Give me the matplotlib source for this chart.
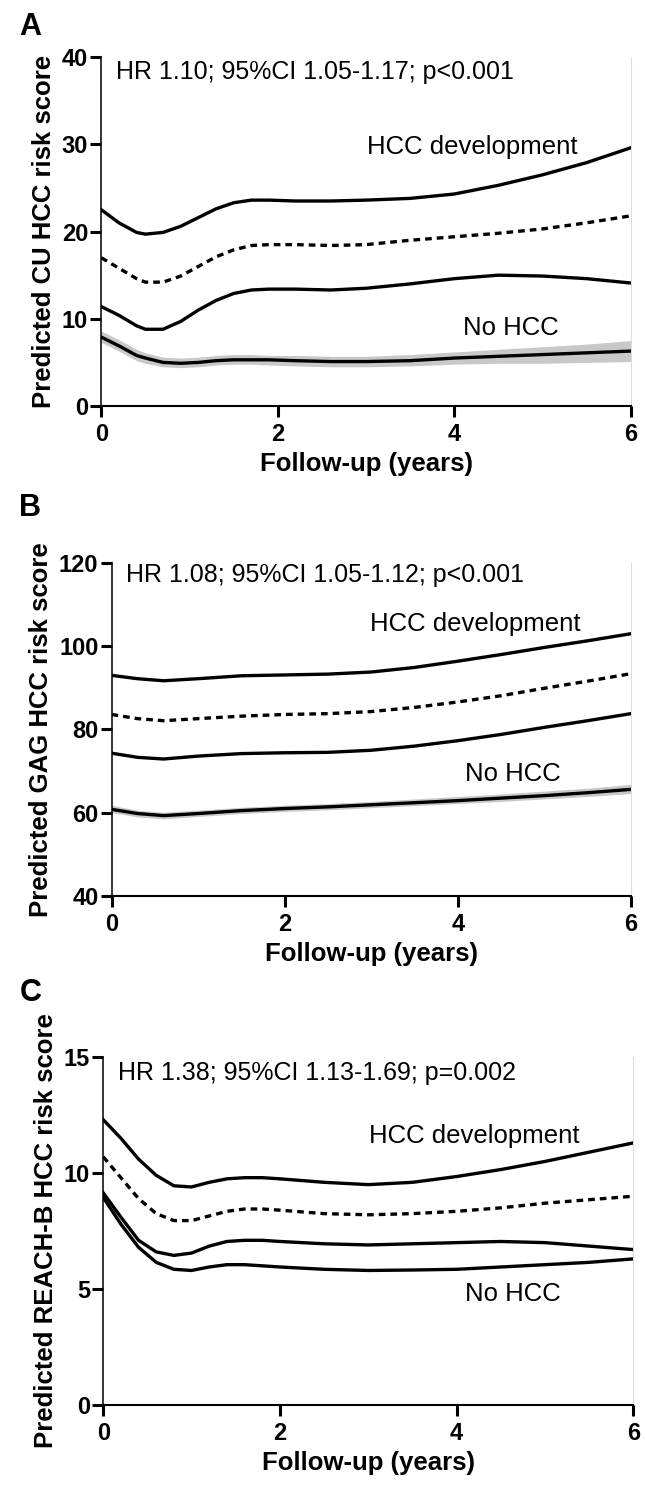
import numpy as np
import matplotlib.pyplot as plt

plt.rcParams['font.family'] = ['Liberation Sans', 'DejaVu Sans']

# panel A - CU HCC
a_x = [0, 0.2, 0.4, 0.5, 0.7, 0.9, 1.1, 1.3, 1.5, 1.7, 1.9, 2.2, 2.6, 3.0, 3.5, 4.0, 4.5, 5.0, 5.5, 6.0]
a_upper = [22.5, 21.0, 19.9, 19.7, 19.9, 20.6, 21.6, 22.6, 23.3, 23.6, 23.6, 23.5, 23.5, 23.6, 23.8, 24.3, 25.3, 26.5, 27.9, 29.6]
a_mean = [17.0, 15.8, 14.6, 14.2, 14.2, 14.9, 16.0, 17.1, 17.9, 18.4, 18.5, 18.5, 18.4, 18.5, 19.0, 19.4, 19.8, 20.3, 21.0, 21.8]
a_lower = [11.4, 10.4, 9.2, 8.8, 8.8, 9.7, 11.0, 12.1, 12.9, 13.3, 13.4, 13.4, 13.3, 13.5, 14.0, 14.6, 15.0, 14.9, 14.6, 14.1]
a_nohcc = [7.9, 6.9, 5.8, 5.5, 5.0, 4.9, 5.0, 5.2, 5.3, 5.3, 5.3, 5.2, 5.1, 5.1, 5.2, 5.5, 5.7, 5.9, 6.1, 6.3]
a_band_lo = [7.3, 6.3, 5.2, 4.9, 4.5, 4.4, 4.5, 4.7, 4.8, 4.8, 4.7, 4.6, 4.5, 4.5, 4.6, 4.8, 4.9, 4.9, 5.0, 5.1]
a_band_hi = [8.6, 7.6, 6.5, 6.1, 5.6, 5.5, 5.6, 5.8, 5.9, 5.9, 5.8, 5.8, 5.7, 5.7, 5.9, 6.2, 6.5, 6.8, 7.1, 7.5]

# panel B - GAG HCC
b_x = [0, 0.3, 0.6, 1.0, 1.5, 2.0, 2.5, 3.0, 3.5, 4.0, 4.5, 5.0, 5.5, 6.0]
b_upper = [93.0, 92.2, 91.7, 92.2, 92.9, 93.1, 93.3, 93.8, 94.9, 96.4, 98.0, 99.7, 101.3, 103.0]
b_mean = [83.6, 82.6, 82.1, 82.6, 83.2, 83.6, 83.8, 84.3, 85.3, 86.6, 88.1, 89.9, 91.6, 93.4]
b_lower = [74.3, 73.3, 72.9, 73.6, 74.2, 74.4, 74.5, 75.0, 76.0, 77.3, 78.8, 80.5, 82.1, 83.8]
b_nohcc = [60.8, 59.8, 59.3, 59.8, 60.5, 61.0, 61.4, 61.9, 62.4, 62.9, 63.5, 64.1, 64.8, 65.6]
b_band_lo = [60.0, 59.0, 58.5, 59.1, 59.8, 60.3, 60.7, 61.2, 61.7, 62.2, 62.7, 63.3, 63.9, 64.6]
b_band_hi = [61.8, 60.6, 60.1, 60.6, 61.3, 61.8, 62.2, 62.7, 63.3, 63.9, 64.5, 65.2, 65.9, 66.8]

# panel C - REACH-B
c_x = [0, 0.2, 0.4, 0.6, 0.8, 1.0, 1.2, 1.4, 1.6, 1.8, 2.0, 2.5, 3.0, 3.5, 4.0, 4.5, 5.0, 5.5, 6.0]
c_upper = [12.3, 11.5, 10.6, 9.9, 9.45, 9.4, 9.6, 9.75, 9.8, 9.8, 9.75, 9.6, 9.5, 9.6, 9.85, 10.15, 10.5, 10.9, 11.3]
c_mean = [10.7, 9.8, 8.9, 8.25, 7.95, 7.95, 8.15, 8.35, 8.45, 8.45, 8.4, 8.25, 8.2, 8.25, 8.35, 8.5, 8.7, 8.85, 9.0]
c_lower = [9.15, 8.1, 7.1, 6.6, 6.45, 6.55, 6.85, 7.05, 7.1, 7.1, 7.05, 6.95, 6.9, 6.95, 7.0, 7.05, 7.0, 6.85, 6.7]
c_nohcc = [8.95, 7.8, 6.8, 6.15, 5.85, 5.8, 5.95, 6.05, 6.05, 6.0, 5.95, 5.85, 5.8, 5.82, 5.85, 5.95, 6.05, 6.15, 6.3]

panels = [
    dict(letter='A', x=a_x, upper=a_upper, mean=a_mean, lower=a_lower, nohcc=a_nohcc,
         band=(a_band_lo, a_band_hi), ylim=(0, 40), yticks=[0, 10, 20, 30, 40],
         ylabel='Predicted CU HCC risk score',
         hr='HR 1.10; 95%CI 1.05-1.17; p<0.001', hr_y=38.3,
         dev_y=29.7, no_y=8.9, letter_y=0.9819,
         pos=[0.157, 0.7273, 0.821, 0.2344]),
    dict(letter='B', x=b_x, upper=b_upper, mean=b_mean, lower=b_lower, nohcc=b_nohcc,
         band=(b_band_lo, b_band_hi), ylim=(40, 120), yticks=[40, 60, 80, 100, 120],
         ylabel='Predicted GAG HCC risk score',
         hr='HR 1.08; 95%CI 1.05-1.12; p<0.001', hr_y=117,
         dev_y=105.3, no_y=69.2, letter_y=0.6588,
         pos=[0.173, 0.3983, 0.805, 0.2236]),
    dict(letter='C', x=c_x, upper=c_upper, mean=c_mean, lower=c_lower, nohcc=c_nohcc,
         band=None, ylim=(0, 15), yticks=[0, 5, 10, 15],
         ylabel='Predicted REACH-B HCC risk score',
         hr='HR 1.38; 95%CI 1.13-1.69; p=0.002', hr_y=14.3,
         dev_y=11.6, no_y=4.8, letter_y=0.3331,
         pos=[0.160, 0.0564, 0.822, 0.2337]),
]

fig = plt.figure(figsize=(6.45, 14.89), dpi=100)

for p in panels:
    ax = fig.add_axes(p['pos'])
    if p['band'] is not None:
        ax.fill_between(p['x'], p['band'][0], p['band'][1], color='#c8c8c8', lw=0, zorder=1)
    ax.plot(p['x'], p['upper'], color='black', lw=2.4, zorder=3)
    ax.plot(p['x'], p['mean'], color='black', lw=2.4, ls=(0, (2.0, 1.5)), zorder=3)
    ax.plot(p['x'], p['lower'], color='black', lw=2.4, zorder=3)
    ax.plot(p['x'], p['nohcc'], color='black', lw=2.4, zorder=3)

    ax.set_xlim(0, 6)
    ax.set_ylim(*p['ylim'])
    ax.set_xticks([0, 2, 4, 6])
    ax.set_yticks(p['yticks'])
    ax.spines['top'].set_visible(False)
    ax.spines['right'].set_color('#dcdcdc')
    ax.spines['right'].set_linewidth(0.8)
    ax.spines['left'].set_linewidth(1.1)
    ax.spines['bottom'].set_linewidth(1.5)
    ax.tick_params(direction='out', length=8, width=2.2, pad=1.5, right=False)
    ax.tick_params(axis='x', pad=4.5)
    for lab in ax.get_xticklabels() + ax.get_yticklabels():
        lab.set_fontweight('bold')
        lab.set_fontsize(17)

    ax.set_xlabel('Follow-up (years)', fontsize=18.5, fontweight='bold', labelpad=4)
    ax.set_ylabel(p['ylabel'], fontsize=18.5, fontweight='bold', labelpad=4)

    ax.text(0.17, p['hr_y'], p['hr'], fontsize=18, va='center', ha='left')
    ax.text(4.2, p['dev_y'], 'HCC development', fontsize=18.5, va='center', ha='center')
    ax.text(4.64, p['no_y'], 'No HCC', fontsize=18.5, va='center', ha='center')

    # panel letter
    fig.text(0.047, p['letter_y'], p['letter'], fontsize=22, fontweight='bold', ha='center', va='center')

fig.savefig('out.png', dpi=100)
